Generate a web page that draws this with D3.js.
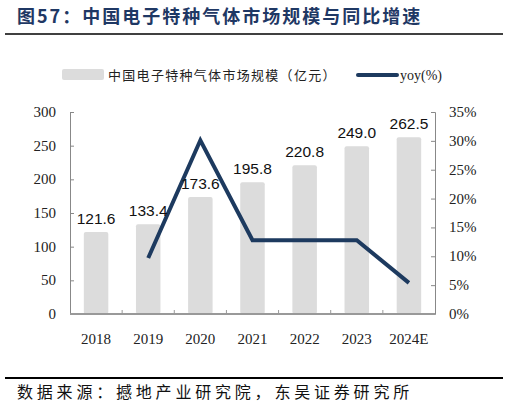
<!DOCTYPE html>
<html>
<head>
<meta charset="utf-8">
<script src="https://cdn.jsdelivr.net/npm/d3@7"></script>
<style>
  body { margin: 0; background: #fff; }
  svg { display: block; }
</style>
</head>
<body>
<div id="chart"></div>
<script>
// data
const years = ["2018", "2019", "2020", "2021", "2022", "2023", "2024E"];
const market = [121.6, 133.4, 173.6, 195.8, 220.8, 249.0, 262.5];
const yoy = [null, 9.7, 30.1, 12.8, 12.8, 12.8, 5.4];
const leftTicks = [0, 50, 100, 150, 200, 250, 300];
const rightTicks = [0, 5, 10, 15, 20, 25, 30, 35];

const width = 509;
const height = 402;
const margin = {top: 112, right: 74, bottom: 88, left: 70};

const svg = d3.select('#chart').append('svg')
    .attr('width', width)
    .attr('height', height);

const x = d3.scaleBand()
    .domain(years)
    .range([margin.left, width - margin.right])
    .paddingInner(0.53)
    .paddingOuter(0.265);

const y = d3.scaleLinear()
    .domain([0, 300])
    .range([height - margin.bottom, margin.top]);

const y2 = d3.scaleLinear()
    .domain([0, 35])
    .range([height - margin.bottom, margin.top]);

// title
svg.append('text')
    .attr('x', 17).attr('y', 23)
    .attr('font-family', 'Noto Sans CJK SC')
    .attr('font-weight', 'bold')
    .attr('font-size', 18)
    .attr('letter-spacing', 2)
    .attr('fill', '#1f3864')
    .text('图57：中国电子特种气体市场规模与同比增速');

svg.append('line')
    .attr('x1', 5).attr('x2', 503)
    .attr('y1', 34).attr('y2', 34)
    .attr('stroke', '#000').attr('stroke-width', 1.5);

// legend
const legend = svg.append('g');
legend.append('rect')
    .attr('x', 62).attr('y', 69)
    .attr('width', 42).attr('height', 11)
    .attr('rx', 2)
    .attr('fill', '#dcdcdc');
legend.append('text')
    .attr('x', 108).attr('y', 80)
    .attr('font-family', 'Noto Sans CJK SC')
    .attr('font-size', 13)
    .attr('letter-spacing', 1.3)
    .attr('fill', '#222')
    .text('中国电子特种气体市场规模（亿元）');
legend.append('line')
    .attr('x1', 358).attr('x2', 397)
    .attr('y1', 75).attr('y2', 75)
    .attr('stroke', '#1d3a5f').attr('stroke-width', 4)
    .attr('stroke-linecap', 'round');
legend.append('text')
    .attr('x', 400).attr('y', 80)
    .attr('font-family', 'Liberation Serif')
    .attr('font-size', 14)
    .attr('fill', '#222')
    .text('yoy(%)');

// bars
svg.append('g')
    .selectAll('rect')
    .data(market)
    .join('rect')
    .attr('x', (d, i) => x(years[i]))
    .attr('y', d => y(d))
    .attr('width', x.bandwidth())
    .attr('height', d => y(0) - y(d))
    .attr('rx', 2)
    .attr('fill', '#dcdcdc');

// axes
const leftAxis = svg.append('g')
    .attr('transform', `translate(${margin.left},0)`)
    .call(d3.axisRight(y).tickValues(leftTicks).tickSize(4).tickFormat(''));
leftAxis.selectAll('line, path').attr('stroke', '#888');

svg.append('g')
    .selectAll('text')
    .data(leftTicks)
    .join('text')
    .attr('x', margin.left - 14)
    .attr('y', d => y(d) + 5)
    .attr('text-anchor', 'end')
    .attr('font-family', 'Liberation Serif')
    .attr('font-size', 15)
    .attr('fill', '#222')
    .text(d => d);

const rightAxis = svg.append('g')
    .attr('transform', `translate(${width - margin.right},0)`)
    .call(d3.axisLeft(y2).tickValues(rightTicks).tickSize(4).tickFormat(''));
rightAxis.selectAll('line, path').attr('stroke', '#888');

svg.append('g')
    .selectAll('text')
    .data(rightTicks)
    .join('text')
    .attr('x', width - margin.right + 14)
    .attr('y', d => y2(d) + 5)
    .attr('text-anchor', 'start')
    .attr('font-family', 'Liberation Serif')
    .attr('font-size', 15)
    .attr('fill', '#222')
    .text(d => d + '%');

// x axis with ticks between bands
const step = x.step();
const bounds = years.slice(1).map(d => x(d) - step * x.paddingInner() / 2);
const xAxis = svg.append('g')
    .attr('transform', `translate(0,${y(0)})`);
xAxis.append('line')
    .attr('x1', margin.left).attr('x2', width - margin.right)
    .attr('stroke', '#999').attr('stroke-width', 2);
xAxis.selectAll('.tk')
    .data(bounds)
    .join('line')
    .attr('class', 'tk')
    .attr('x1', d => d).attr('x2', d => d)
    .attr('y1', 0).attr('y2', -4)
    .attr('stroke', '#999');
xAxis.selectAll('text')
    .data(years)
    .join('text')
    .attr('x', d => x(d) + x.bandwidth() / 2)
    .attr('y', 30)
    .attr('text-anchor', 'middle')
    .attr('font-family', 'Liberation Serif')
    .attr('font-size', 15)
    .attr('fill', '#222')
    .text(d => d);

// yoy line
const line = d3.line()
    .defined(d => d[1] !== null)
    .x(d => x(d[0]) + x.bandwidth() / 2)
    .y(d => y2(d[1]));

svg.append('path')
    .datum(years.map((d, i) => [d, yoy[i]]))
    .attr('fill', 'none')
    .attr('stroke', '#1d3a5f')
    .attr('stroke-width', 4)
    .attr('stroke-linejoin', 'miter')
    .attr('d', line);

// bar labels
svg.append('g')
    .selectAll('text')
    .data(market)
    .join('text')
    .attr('x', (d, i) => x(years[i]) + x.bandwidth() / 2)
    .attr('y', d => y(d) - 8)
    .attr('text-anchor', 'middle')
    .attr('font-family', 'Liberation Sans')
    .attr('font-size', 15.5)
    .attr('fill', '#111')
    .text(d => d.toFixed(1));

// footer
svg.append('line')
    .attr('x1', 5).attr('x2', 503)
    .attr('y1', 378).attr('y2', 378)
    .attr('stroke', '#000').attr('stroke-width', 2);

svg.append('text')
    .attr('x', 17).attr('y', 398)
    .attr('font-family', 'Noto Sans CJK SC')
    .attr('font-size', 16)
    .attr('letter-spacing', 3.8)
    .attr('fill', '#111')
    .text('数据来源：撼地产业研究院，东吴证券研究所');
</script>
</body>
</html>
